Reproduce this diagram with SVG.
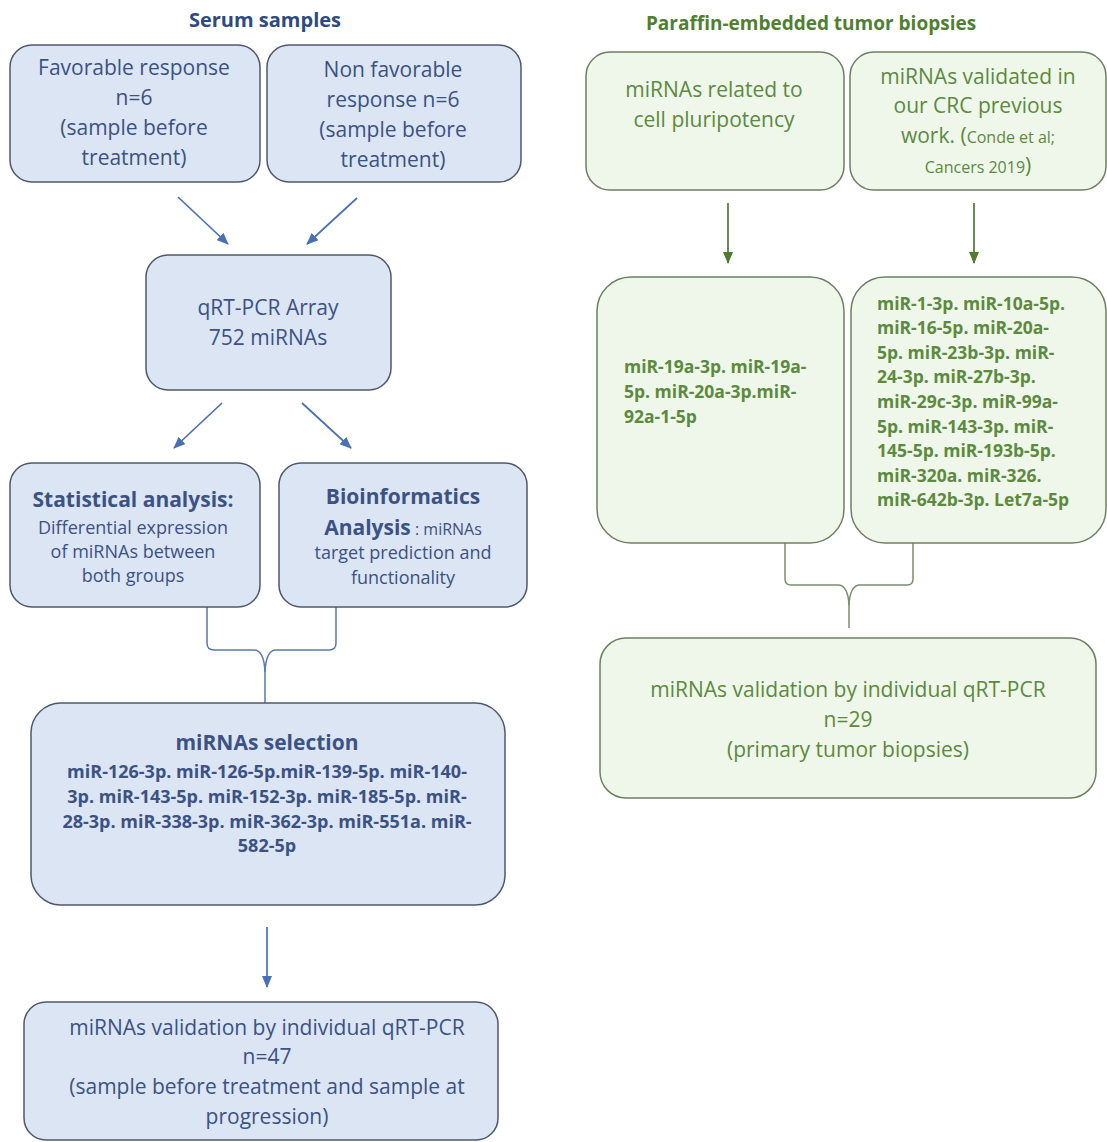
<svg xmlns="http://www.w3.org/2000/svg" width="1107" height="1142" viewBox="0 0 1107 1142">
<defs>
<style>
text{font-family:"Open Sans","Noto Sans","DejaVu Sans",sans-serif;}
.bb{fill:#DCE5F4;stroke:#4F596B;stroke-width:1.5;}
.gb{fill:#EFF6EA;stroke:#6E8063;stroke-width:1.5;}
.bt{fill:#3B5283;font-size:21px;text-anchor:middle;}
.gt{fill:#5C8A3E;font-size:21px;text-anchor:middle;}
.bl{fill:#3B5283;font-size:18px;font-weight:bold;}
.gl{fill:#5C8A3E;font-size:17.5px;font-weight:bold;}
.hb{font-weight:bold;}
.sm{font-size:16px;}
.ba{stroke:#4A70B5;stroke-width:1.7;fill:none;marker-end:url(#ab);}
.ga{stroke:#4E7A32;stroke-width:1.7;fill:none;marker-end:url(#ag);}
.bbr{stroke:#5A7AB0;stroke-width:1.5;fill:none;}
.gbr{stroke:#7C8E70;stroke-width:1.5;fill:none;}
</style>
<marker id="ab" viewBox="0 0 12 10" refX="11" refY="5" markerWidth="12" markerHeight="10" orient="auto" markerUnits="userSpaceOnUse"><path d="M0,0 L12,5 L0,10 z" fill="#4A70B5"/></marker>
<marker id="ag" viewBox="0 0 12 10" refX="11" refY="5" markerWidth="12" markerHeight="10" orient="auto" markerUnits="userSpaceOnUse"><path d="M0,0 L12,5 L0,10 z" fill="#4E7A32"/></marker>
</defs>
<rect width="1107" height="1142" fill="#FFFFFF"/>

<text id="title-serum" x="265" y="27" text-anchor="middle" fill="#2E4A7E" style="font-size:20px;font-weight:bold">Serum samples</text>
<text id="title-paraffin" x="811" y="30" text-anchor="middle" fill="#4F7F30" style="font-size:19px;font-weight:bold">Paraffin-embedded tumor biopsies</text>

<g id="connectors">
<line class="ba" x1="178" y1="197" x2="228" y2="244"/>
<line class="ba" x1="357" y1="198" x2="307" y2="244"/>
<line class="ba" x1="222" y1="403" x2="174" y2="448"/>
<line class="ba" x1="302" y1="403" x2="351" y2="448"/>
<path class="bbr" d="M207,607 V643 Q207,650 214,650 H254 Q264,650 265,672 V703"/>
<path class="bbr" d="M336,607 V643 Q336,650 329,650 H276 Q266,650 265,672"/>
<line class="ba" x1="267" y1="927" x2="267" y2="987"/>
<line class="ga" x1="728" y1="203" x2="728" y2="263"/>
<line class="ga" x1="974" y1="203" x2="974" y2="263"/>
<path class="gbr" d="M785,543 V579 Q785,585 791,585 H838 Q848,585 849,605 V628"/>
<path class="gbr" d="M913,543 V579 Q913,585 907,585 H860 Q850,585 849,605"/>
</g>

<g id="node-favorable">
<rect class="bb" x="10" y="45" width="250" height="137" rx="22"/>
<text class="bt" x="134" y="75">Favorable response</text>
<text class="bt" x="134" y="105">n=6</text>
<text class="bt" x="134" y="135">(sample before</text>
<text class="bt" x="134" y="165">treatment)</text>
</g>

<g id="node-nonfavorable">
<rect class="bb" x="267" y="45" width="254" height="137" rx="22"/>
<text class="bt" x="393" y="77">Non favorable</text>
<text class="bt" x="393" y="107">response n=6</text>
<text class="bt" x="393" y="137">(sample before</text>
<text class="bt" x="393" y="167">treatment)</text>
</g>

<g id="node-array">
<rect class="bb" x="146" y="255" width="245" height="135" rx="22"/>
<text class="bt" x="268" y="315">qRT-PCR Array</text>
<text class="bt" x="268" y="345">752 miRNAs</text>
</g>

<g id="node-statistical">
<rect class="bb" x="10" y="463" width="250" height="144" rx="22"/>
<text class="bt hb" x="133" y="507">Statistical analysis:</text>
<text class="bt" x="133" y="534" style="font-size:18px">Differential expression</text>
<text class="bt" x="133" y="558" style="font-size:18px">of miRNAs between</text>
<text class="bt" x="133" y="582" style="font-size:18px">both groups</text>
</g>

<g id="node-bioinformatics">
<rect class="bb" x="279" y="463" width="248" height="144" rx="22"/>
<text class="bt hb" x="403" y="504">Bioinformatics</text>
<text class="bt" x="403" y="535"><tspan class="hb">Analysis</tspan><tspan class="sm"> : miRNAs</tspan></text>
<text class="bt" x="403" y="559" style="font-size:18px">target prediction and</text>
<text class="bt" x="403" y="584" style="font-size:18px">functionality</text>
</g>

<g id="node-selection">
<rect class="bb" x="31" y="703" width="474" height="202" rx="30"/>
<text class="bt hb" x="267" y="750">miRNAs selection</text>
<text class="bl" x="267" y="778" text-anchor="middle">miR-126-3p. miR-126-5p.miR-139-5p. miR-140-</text>
<text class="bl" x="267" y="803" text-anchor="middle">3p. miR-143-5p. miR-152-3p. miR-185-5p. miR-</text>
<text class="bl" x="267" y="828" text-anchor="middle">28-3p. miR-338-3p. miR-362-3p. miR-551a. miR-</text>
<text class="bl" x="267" y="852" text-anchor="middle">582-5p</text>
</g>

<g id="node-validation-serum">
<rect class="bb" x="24" y="1002" width="474" height="138" rx="22"/>
<text class="bt" x="267" y="1035">miRNAs validation by individual qRT-PCR</text>
<text class="bt" x="267" y="1064">n=47</text>
<text class="bt" x="267" y="1094">(sample before treatment and sample at</text>
<text class="bt" x="267" y="1124">progression)</text>
</g>

<g id="node-pluripotency">
<rect class="gb" x="586" y="52" width="258" height="138" rx="24"/>
<text class="gt" x="714" y="97">miRNAs related to</text>
<text class="gt" x="714" y="127">cell pluripotency</text>
</g>

<g id="node-previous">
<rect class="gb" x="850" y="52" width="256" height="138" rx="24"/>
<text class="gt" x="978" y="84">miRNAs validated in</text>
<text class="gt" x="978" y="113">our CRC previous</text>
<text class="gt" x="978" y="143">work. (<tspan class="sm">Conde et al;</tspan></text>
<text class="gt" x="978" y="173"><tspan class="sm">Cancers 2019</tspan>)</text>
</g>

<g id="node-list-pluripotency">
<rect class="gb" x="597" y="277" width="247" height="266" rx="34"/>
<text class="gl" x="624" y="373">miR-19a-3p. miR-19a-</text>
<text class="gl" x="624" y="398">5p. miR-20a-3p.miR-</text>
<text class="gl" x="624" y="423">92a-1-5p</text>
</g>

<g id="node-list-previous">
<rect class="gb" x="851" y="277" width="255" height="266" rx="34"/>
<text class="gl" x="877" y="310">miR-1-3p. miR-10a-5p.</text>
<text class="gl" x="877" y="334">miR-16-5p. miR-20a-</text>
<text class="gl" x="877" y="359">5p. miR-23b-3p. miR-</text>
<text class="gl" x="877" y="383">24-3p. miR-27b-3p.</text>
<text class="gl" x="877" y="408">miR-29c-3p. miR-99a-</text>
<text class="gl" x="877" y="433">5p. miR-143-3p. miR-</text>
<text class="gl" x="877" y="457">145-5p. miR-193b-5p.</text>
<text class="gl" x="877" y="482">miR-320a. miR-326.</text>
<text class="gl" x="877" y="506">miR-642b-3p. Let7a-5p</text>
</g>

<g id="node-validation-tumor">
<rect class="gb" x="600" y="638" width="496" height="160" rx="26"/>
<text class="gt" x="848" y="697">miRNAs validation by individual qRT-PCR</text>
<text class="gt" x="848" y="727">n=29</text>
<text class="gt" x="848" y="757">(primary tumor biopsies)</text>
</g>
</svg>
